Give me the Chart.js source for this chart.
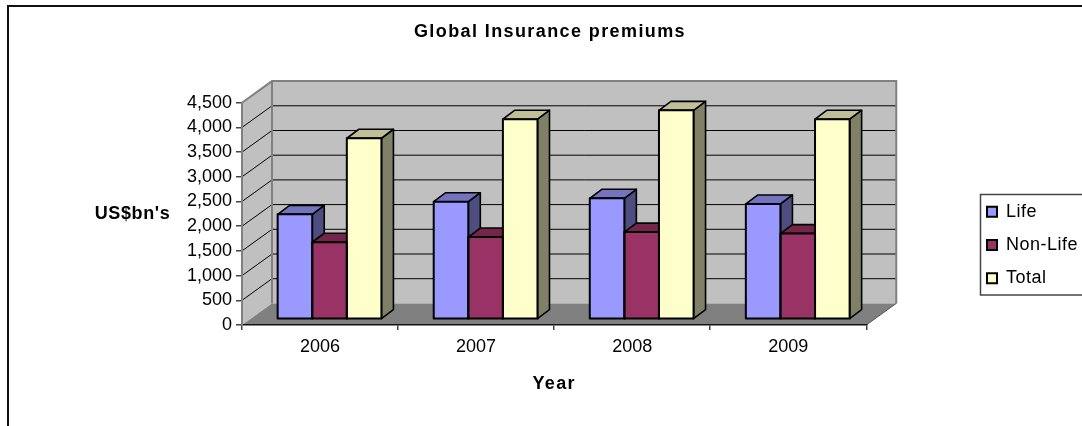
<!DOCTYPE html>
<html>
<head>
<meta charset="utf-8">
<style>
    html, body { margin: 0; padding: 0; background: #fff; overflow: hidden; }
    canvas { display: block; }
</style>
<script src="https://cdn.jsdelivr.net/npm/chart.js@4/dist/chart.umd.min.js"></script>
</head>
<body>
<canvas id="premiums" width="1082" height="426"></canvas>
<script>
const years = ['2006', '2007', '2008', '2009'];
const life = [2125, 2380, 2450, 2335];
const nonLife = [1560, 1665, 1765, 1735];
const total = [3665, 4050, 4230, 4050];
const yTicksMax = 4500;
const yTicksStep = 500;
const chartTitle = 'Global Insurance premiums';
const xTitle = 'Year';
const yTitle = "US$bn's";

const FONT = '"Liberation Sans", Arial, sans-serif';

// fake 3D depth, same as the old Excel look
const wall = { dx: 30, dy: -21.6 };
const barShift = { x: 9.5, y: -5.7 };
const barDepth = { x: 12, y: -9 };
const shades = [
    { top: '#7373BF', side: '#4D4D80' },
    { top: '#732649', side: '#4D1A33' },
    { top: '#BFBF99', side: '#808066' }
];

function poly(ctx, pts, fill, stroke, width) {
    ctx.beginPath();
    pts.forEach((p, i) => i ? ctx.lineTo(p[0], p[1]) : ctx.moveTo(p[0], p[1]));
    ctx.closePath();
    if (fill) { ctx.fillStyle = fill; ctx.fill(); }
    if (stroke) { ctx.strokeStyle = stroke; ctx.lineWidth = width; ctx.stroke(); }
}

function line(ctx, x1, y1, x2, y2, color, width) {
    ctx.beginPath();
    ctx.moveTo(x1, y1);
    ctx.lineTo(x2, y2);
    ctx.strokeStyle = color;
    ctx.lineWidth = width;
    ctx.stroke();
}

// the original text is wider spaced than Liberation, stretch it a bit
function spaced(obj, method, ctx, px) {
    const orig = obj[method];
    obj[method] = function() {
        ctx.save();
        ctx.letterSpacing = px;
        orig.apply(this, arguments);
        ctx.restore();
    };
}

const scene3d = {
    id: 'scene3d',
    afterLayout(chart) {
        // legend sits lower than the plot centre in the original
        const l = chart.legend;
        l.left = 971.7; l.right = 1082; l.top = 187.4; l.bottom = 310;
        if (!chart.$spaced) {
            chart.$spaced = true;
            spaced(chart.titleBlock, 'draw', chart.ctx, '1.4px');
            spaced(chart.scales.x, 'drawTitle', chart.ctx, '1.3px');
            spaced(l, 'draw', chart.ctx, '0.5px');
        }
    },
    beforeDraw(chart) {
        const { ctx, chartArea: a, scales: { y } } = chart;
        const { dx, dy } = wall;
        ctx.save();
        // outer frame, cut off at the right and the bottom
        ctx.strokeStyle = '#111';
        ctx.lineWidth = 2;
        ctx.beginPath();
        ctx.moveTo(8, 426); ctx.lineTo(8, 6); ctx.lineTo(1082, 6);
        ctx.stroke();

        poly(ctx, [[a.left + dx, a.top + dy], [a.right + dx, a.top + dy], [a.right + dx, a.bottom + dy], [a.left + dx, a.bottom + dy]], '#C0C0C0');
        poly(ctx, [[a.left, a.top], [a.left + dx, a.top + dy], [a.left + dx, a.bottom + dy], [a.left, a.bottom]], '#C0C0C0');
        poly(ctx, [[a.left, a.bottom], [a.left + dx, a.bottom + dy], [a.right + dx, a.bottom + dy], [a.right, a.bottom]], '#808080');

        y.ticks.forEach(t => {
            if (t.value === 0 || t.value === yTicksMax) return;
            const py = y.getPixelForValue(t.value);
            line(ctx, a.left, py, a.left + dx, py + dy, '#000', 1);
            line(ctx, a.left + dx, py + dy, a.right + dx, py + dy, '#000', 1);
        });

        ctx.strokeStyle = '#808080';
        ctx.lineWidth = 2;
        ctx.beginPath();
        ctx.moveTo(a.left, a.top);
        ctx.lineTo(a.left + dx, a.top + dy);
        ctx.lineTo(a.right + dx, a.top + dy);
        ctx.lineTo(a.right + dx, a.bottom + dy);
        ctx.moveTo(a.left + dx, a.top + dy);
        ctx.lineTo(a.left + dx, a.bottom + dy);
        ctx.stroke();
        line(ctx, a.right, a.bottom, a.right + dx, a.bottom + dy, '#555', 1);

        // y title is horizontal in the original, scale.title can only rotate
        ctx.fillStyle = '#000';
        ctx.font = 'bold 18px ' + FONT;
        ctx.letterSpacing = '0.6px';
        ctx.textAlign = 'center';
        ctx.textBaseline = 'middle';
        ctx.fillText(yTitle, 132.5, 214);

        // legend frame, open on the right
        ctx.strokeStyle = '#444';
        ctx.lineWidth = 1.5;
        ctx.beginPath();
        ctx.moveTo(1082, 194.5); ctx.lineTo(980.5, 194.5); ctx.lineTo(980.5, 295); ctx.lineTo(1082, 295);
        ctx.stroke();
        ctx.restore();
    },
    beforeDatasetsDraw(chart) {
        const { ctx } = chart;
        ctx.save();
        ctx.translate(barShift.x, barShift.y);
        ctx.lineJoin = 'round';
        // left to right so the next bar's top hides the previous side
        chart.data.datasets.forEach((ds, i) => {
            chart.getDatasetMeta(i).data.forEach(bar => {
                const l = bar.x - bar.width / 2, r = bar.x + bar.width / 2;
                const t = bar.y, b = bar.base;
                const { x: ox, y: oy } = barDepth;
                poly(ctx, [[r, t], [r + ox, t + oy], [r + ox, b + oy], [r, b]], shades[i].side, '#000', 1.6);
                poly(ctx, [[l, t], [l + ox, t + oy], [r + ox, t + oy], [r, t]], shades[i].top, '#000', 1.6);
            });
        });
    },
    afterDatasetsDraw(chart) {
        const { ctx } = chart;
        chart.data.datasets.forEach((ds, i) => {
            chart.getDatasetMeta(i).data.forEach(bar => {
                const l = bar.x - bar.width / 2;
                ctx.strokeStyle = '#000';
                ctx.lineWidth = 2;
                ctx.strokeRect(l, bar.y, bar.width, bar.base - bar.y);
            });
        });
        ctx.restore();
    }
};

new Chart(document.getElementById('premiums'), {
    type: 'bar',
    data: {
        labels: years,
        datasets: [
            { label: 'Life', data: life, backgroundColor: '#9999FF', borderColor: '#000' },
            { label: 'Non-Life', data: nonLife, backgroundColor: '#993366', borderColor: '#000' },
            { label: 'Total', data: total, backgroundColor: '#FFFFCC', borderColor: '#000' }
        ]
    },
    options: {
        responsive: false,
        animation: false,
        clip: false,
        layout: { padding: { left: 121.4, right: 103.4, top: 0, bottom: 0 } },
        categoryPercentage: 0.665,
        barPercentage: 1,
        plugins: {
            title: {
                display: true,
                text: chartTitle,
                color: '#000',
                font: { family: FONT, size: 18, weight: 'bold' },
                padding: { top: 21, bottom: 60.1 }
            },
            legend: {
                position: 'right',
                align: 'start',
                fullSize: false,
                labels: {
                    color: '#000',
                    font: { family: FONT, size: 18 },
                    boxWidth: 10,
                    boxHeight: 10,
                    padding: 15.3,
                    generateLabels(chart) {
                        return Chart.defaults.plugins.legend.labels.generateLabels(chart).map(item => {
                            item.lineWidth = 2;
                            item.strokeStyle = '#000';
                            return item;
                        });
                    }
                }
            },
            tooltip: { enabled: false }
        },
        scales: {
            x: {
                afterFit(scale) { scale.height = 101; },
                border: { color: '#111', width: 1.5 },
                grid: { drawOnChartArea: false, color: '#444', lineWidth: 1.5, tickLength: 5 },
                ticks: { color: '#000', font: { family: FONT, size: 18 }, padding: 6, maxRotation: 0 },
                title: {
                    display: true,
                    text: xTitle,
                    color: '#000',
                    font: { family: FONT, size: 18, weight: 'bold' },
                    padding: { top: 0, bottom: 31 }
                }
            },
            y: {
                min: 0,
                max: yTicksMax,
                afterFit(scale) { scale.width = 120.6; },
                border: { color: '#808080', width: 2 },
                grid: { drawOnChartArea: false, color: '#444', lineWidth: 1.5, tickLength: 6 },
                ticks: { color: '#000', font: { family: FONT, size: 18 }, padding: 4, stepSize: yTicksStep }
            }
        }
    },
    plugins: [scene3d]
});
</script>
</body>
</html>
